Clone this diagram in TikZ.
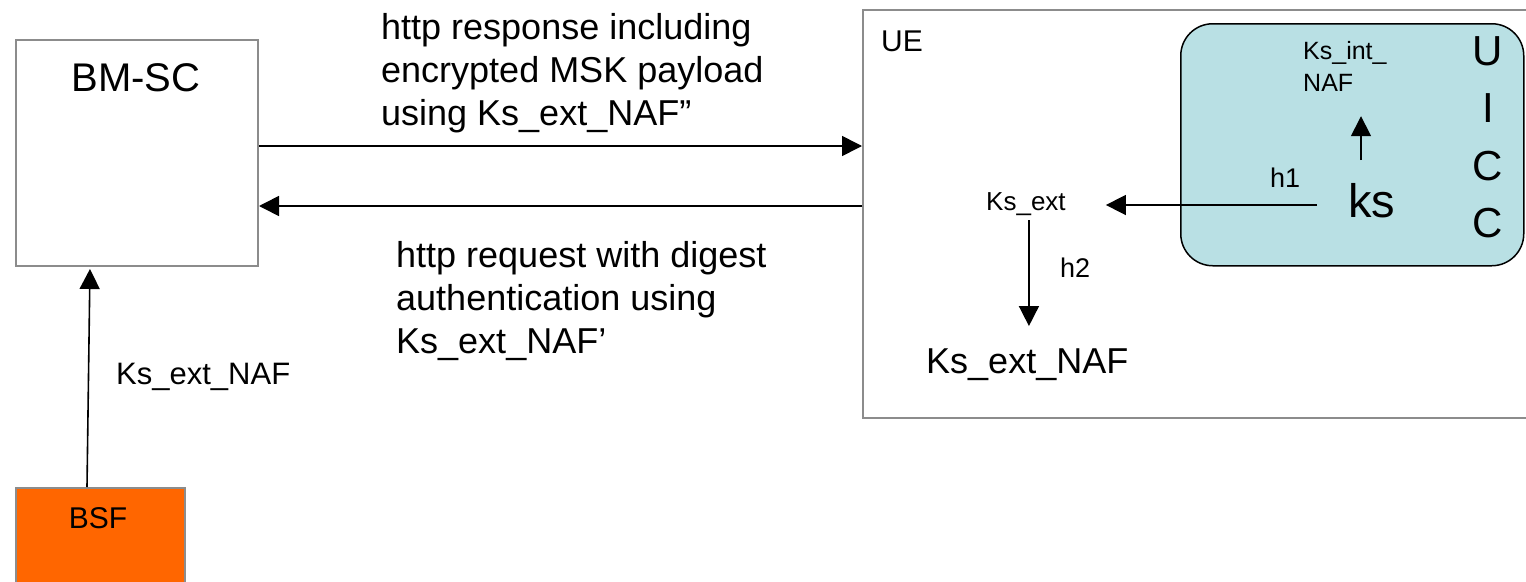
\documentclass[tikz,border=0pt]{standalone}
\usepackage{fontspec}
\setmainfont{Liberation Sans}
\usetikzlibrary{arrows.meta}
\definecolor{boxgray}{RGB}{140,140,140}
\definecolor{bsforange}{RGB}{255,102,0}
\definecolor{uiccblue}{RGB}{185,224,228}
\newcommand{\fsz}[2]{\fontsize{#1}{#2}\selectfont}
\begin{document}
\begin{tikzpicture}[x=1pt,y=-1pt,
  entity/.style={draw=boxgray,line width=2pt,inner sep=0pt,anchor=north west},
  arr/.style={line width=1.6pt,-{Triangle[length=20pt,width=20pt]}},
  lbl/.style={inner sep=0pt,anchor=base west},
]
\useasboundingbox (0,0) rectangle (1526,581);

% network entities
\node[entity,minimum width=242pt,minimum height=226pt] (bmsc) at (15,39) {};
\node[entity,fill=bsforange,minimum width=169pt,minimum height=120pt] (bsf) at (15,487) {};
\node[entity,minimum width=700pt,minimum height=408pt] (ue) at (862,9) {};
\node[draw=black,line width=1.5pt,fill=uiccblue,rounded corners=32pt,
      inner sep=0pt,anchor=north west,minimum width=343pt,minimum height=242pt]
      (uicc) at (1180,23) {};

% entity names (multi-line nodes sit on the baseline of their last line)
\node[lbl,font=\fsz{40}{48},anchor=base] (bmsclbl) at (136,91) {BM-SC};
\node[lbl,font=\fsz{30}{36},anchor=base] (bsflbl) at (98,528) {BSF};
\node[lbl,font=\fsz{30}{36}] (uelbl) at (881,51) {UE};
\node[lbl,font=\fsz{42}{57.5},align=center,anchor=base] (uicclbl) at (1488,237.5) {U\\I\\C\\C};

% message labels
\node[lbl,font=\fsz{36}{43},align=left] (resp) at (381,125)
  {http response including\\encrypted MSK payload\\using Ks\_ext\_NAF”};
\node[lbl,font=\fsz{36}{43},align=left] (req) at (396,353)
  {http request with digest\\authentication using\\Ks\_ext\_NAF’};
\node[lbl,font=\fsz{31}{37}] (extlbl) at (116,384) {Ks\_ext\_NAF};

% key derivation inside the UE
\node[lbl,font=\fsz{25}{32},align=left] (ksint) at (1303,91) {Ks\_int\_\\NAF};
\node[lbl,font=\fsz{47}{56}] (ks) at (1348,217) {ks};
\node[lbl,font=\fsz{27}{32}] (h1) at (1270,187) {h1};
\node[lbl,font=\fsz{26}{31}] (ksext) at (986,210) {Ks\_ext};
\node[lbl,font=\fsz{27}{32}] (h2) at (1060,277) {h2};
\node[lbl,font=\fsz{36}{43}] (ksnaf) at (926,373) {Ks\_ext\_NAF};

% messages between BM-SC, BSF and UE
\draw[arr] ([yshift=7pt]bmsc.east) -- ([yshift=7pt]bmsc.east -| ue.west);
\draw[arr] ([yshift=-53pt]bmsc.east -| ue.west) -- ([yshift=-53pt]bmsc.east);
\draw[arr,shorten >=2pt] ([xshift=72pt]bsf.north west) -- ([xshift=75pt]bmsc.south west);

% derivation arrows
\coordinate (h1start) at (1317,205);
\draw[arr,shorten >=40pt] (h1start) -- (h1start -| ksext.east);
\coordinate (kup) at (1361,160);
\draw[arr,shorten >=25pt] (kup) -- (kup |- ksint.south);
\draw[arr,shorten <=5pt,shorten >=22pt] ([xshift=3pt]ksext.south) -- ([xshift=3pt]ksext.south |- ksnaf.north);
\end{tikzpicture}
\end{document}
